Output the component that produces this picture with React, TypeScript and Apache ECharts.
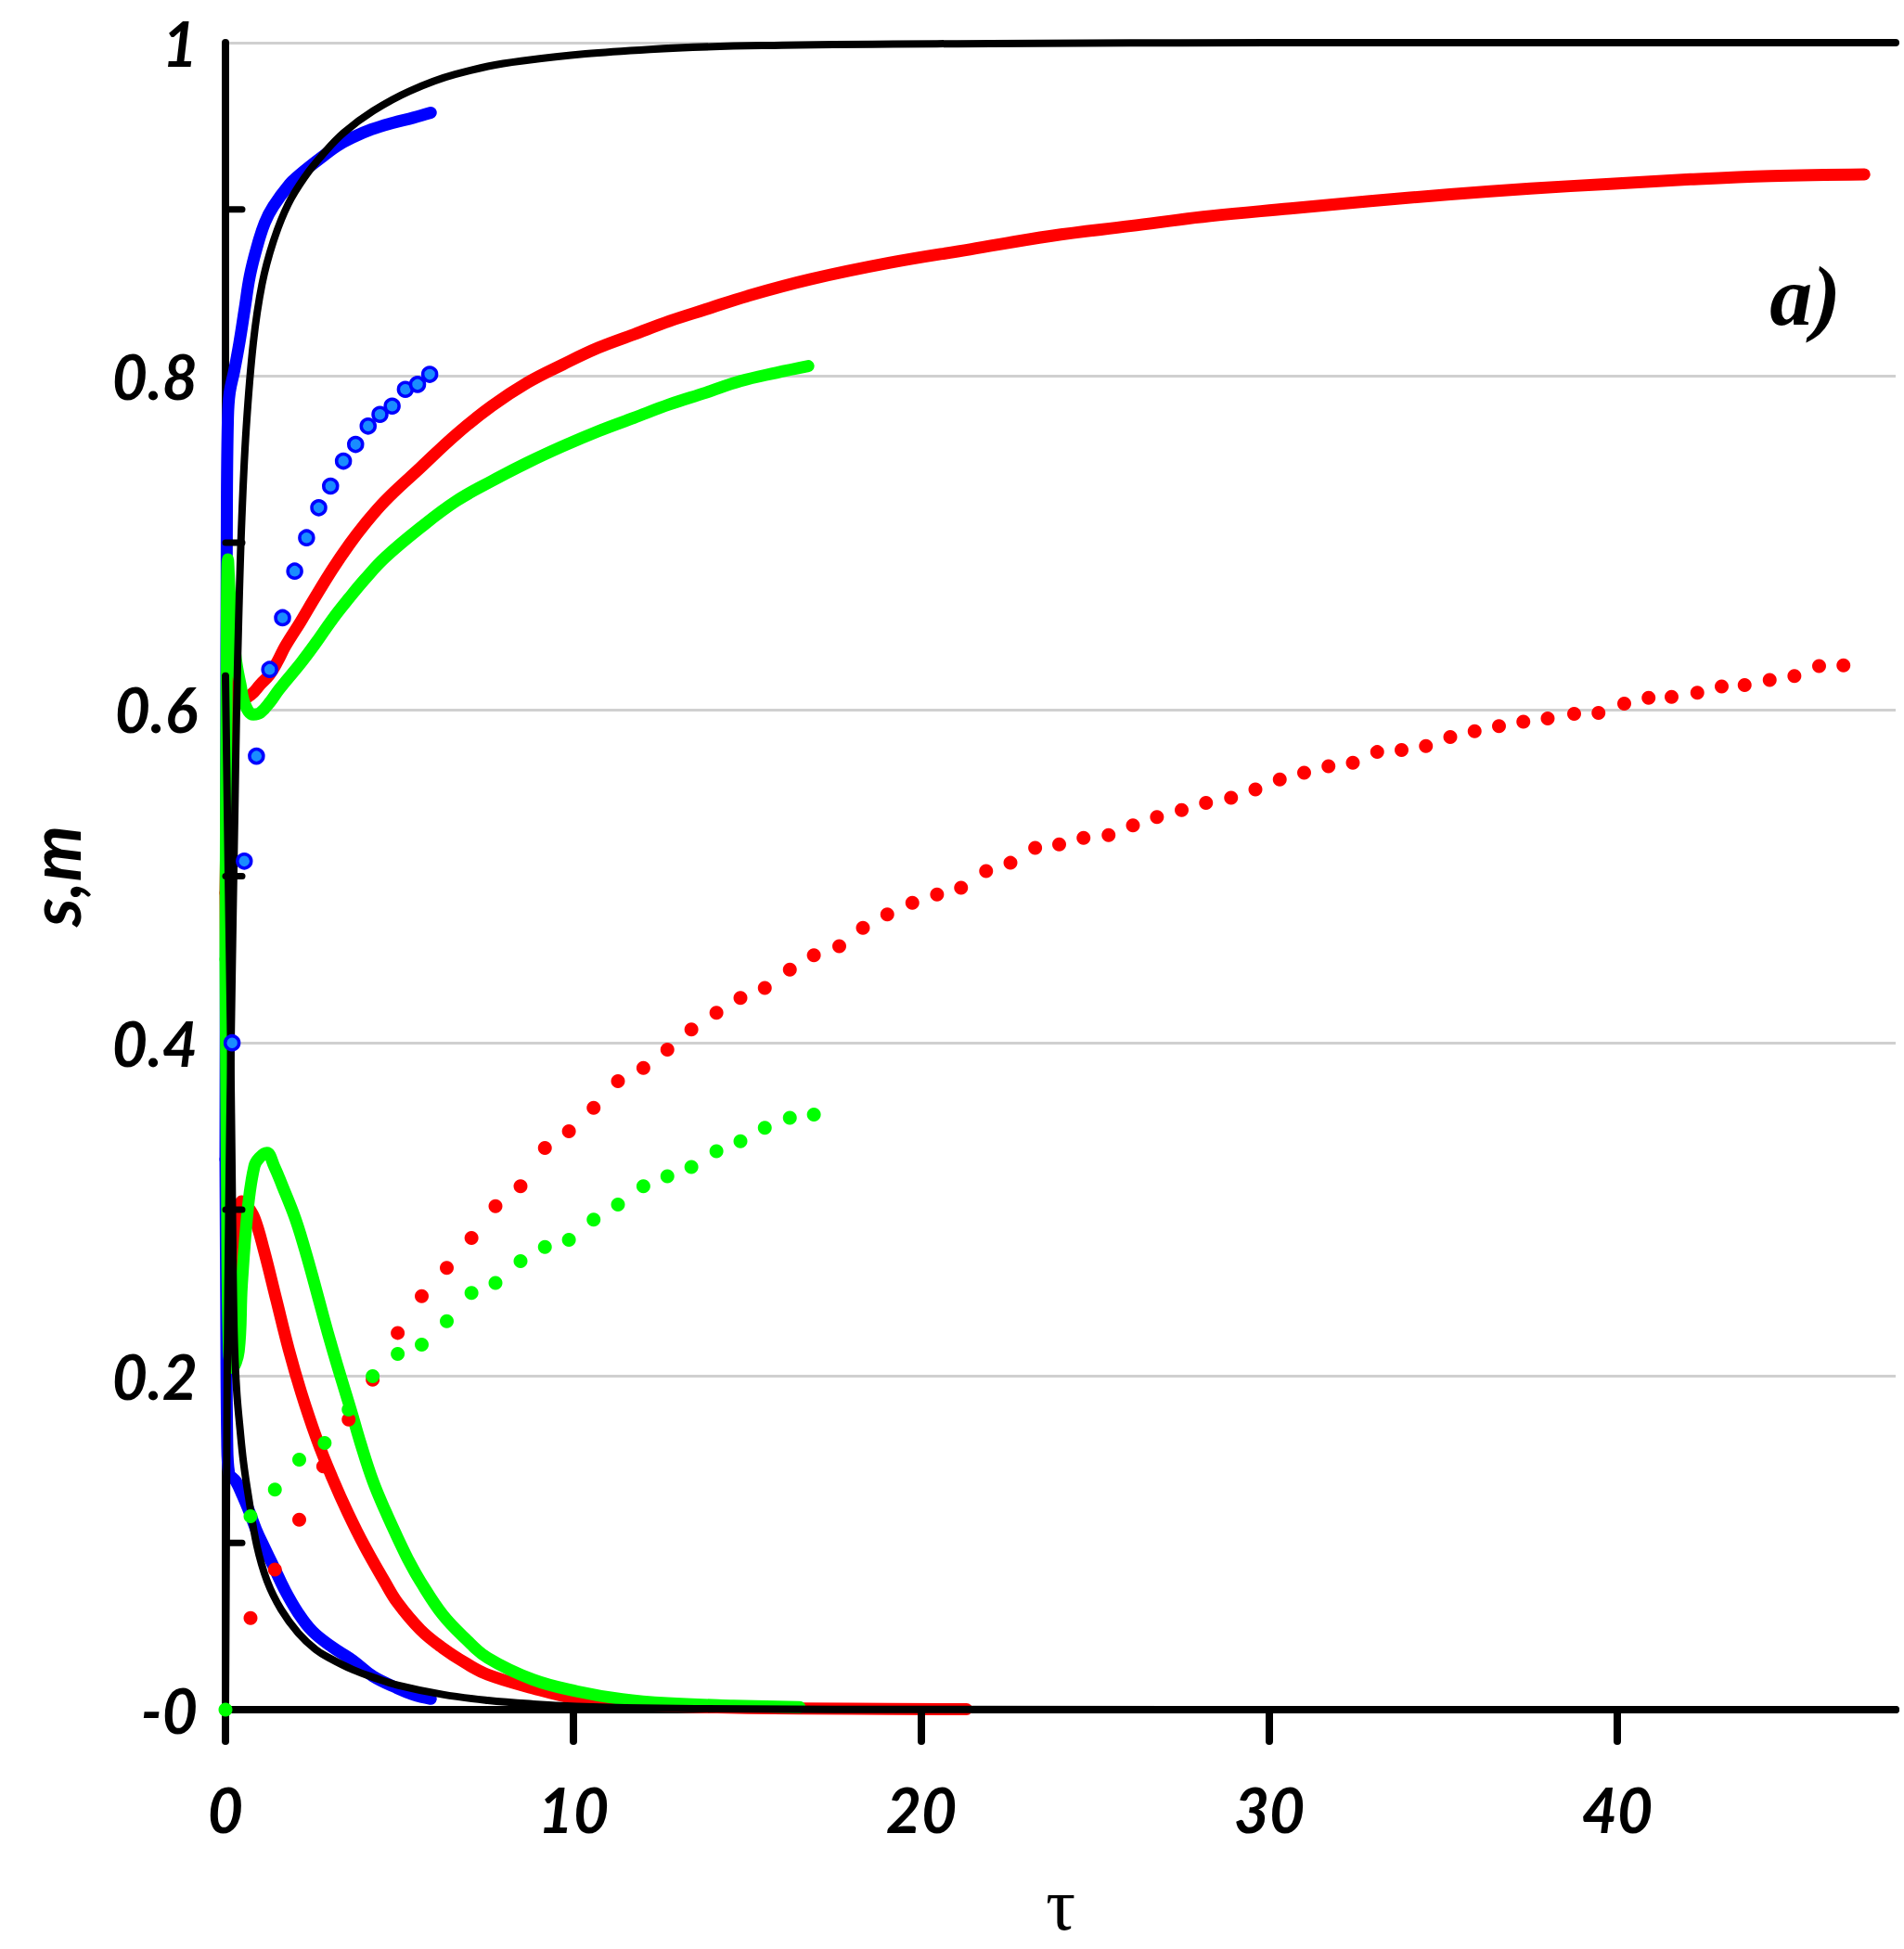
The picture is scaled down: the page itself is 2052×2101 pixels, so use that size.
import React, { useEffect, useRef } from "react";
import * as echarts from "echarts";

// ---------- data (τ, value) ----------
const blueS: number[][] = [
  [0, 0.33], [0.02, 0.55], [0.04, 0.72], [0.07, 0.775], [0.12, 0.79], [0.25, 0.803], [0.4, 0.82],
  [0.55, 0.84], [0.7, 0.86], [0.9, 0.877], [1.13, 0.892], [1.38, 0.902], [1.84, 0.915], [2.09, 0.92],
  [2.5, 0.927], [2.81, 0.932], [3.2, 0.938], [3.64, 0.943], [4.2, 0.948], [4.83, 0.952], [5.4, 0.955], [5.9, 0.958],
];
const blueM: number[][] = [
  [0, 0.33], [0.02, 0.25], [0.05, 0.16], [0.1, 0.142], [0.3, 0.137], [0.5, 0.128], [0.7, 0.118],
  [0.88, 0.108], [1.1, 0.098], [1.38, 0.086], [1.7, 0.072], [2.09, 0.058], [2.5, 0.047], [3.04, 0.038],
  [3.66, 0.0295], [4.24, 0.02], [4.95, 0.0128], [5.4, 0.009], [5.9, 0.0065],
];
const blueDots: number[][] = [
  [0.19, 0.4], [0.54, 0.509], [0.89, 0.572], [1.27, 0.624], [1.64, 0.655], [1.99, 0.683], [2.33, 0.703],
  [2.68, 0.721], [3.02, 0.734], [3.39, 0.749], [3.74, 0.759], [4.1, 0.77], [4.44, 0.777], [4.79, 0.782],
  [5.17, 0.792], [5.52, 0.795], [5.87, 0.801],
];
const redS: number[][] = [
  [0, 0.49], [0.05, 0.56], [0.1, 0.62], [0.2, 0.61], [0.45, 0.606], [0.74, 0.609], [1.0, 0.615],
  [1.27, 0.621], [1.5, 0.629], [1.72, 0.638], [2.17, 0.653], [2.54, 0.666], [3.07, 0.684], [3.56, 0.699],
  [3.96, 0.71], [4.58, 0.725], [5.6, 0.745], [6.63, 0.765], [7.65, 0.782], [8.67, 0.796], [9.7, 0.807],
  [10.72, 0.817], [11.74, 0.825], [12.76, 0.833], [13.8, 0.84], [15.0, 0.848], [16.8, 0.858], [19.1, 0.868],
  [21.4, 0.876], [23.7, 0.884], [26.0, 0.89], [28.3, 0.896], [30.6, 0.9005], [32.9, 0.905], [35.2, 0.909],
  [37.5, 0.9125], [39.8, 0.9153], [42.1, 0.918], [44.4, 0.92], [47.1, 0.921],
];
const redM: number[][] = [
  [0, 0.49], [0.05, 0.35], [0.12, 0.24], [0.2, 0.215], [0.3, 0.26], [0.47, 0.305], [0.6, 0.303],
  [0.83, 0.295], [1.1, 0.276], [1.46, 0.246], [1.82, 0.216], [2.18, 0.19], [2.63, 0.162], [3.07, 0.139],
  [3.52, 0.118], [4.0, 0.098], [4.57, 0.077], [4.95, 0.064], [5.6, 0.048], [6.24, 0.037], [6.9, 0.028],
  [7.54, 0.021], [8.84, 0.0128], [10.1, 0.0065], [11.4, 0.0035], [13.0, 0.002], [15.0, 0.001],
  [18.0, 0.0005], [21.3, 0.0003],
];
const redDots: number[][] = [
  [0.72, 0.055], [1.42, 0.084], [2.12, 0.114], [2.81, 0.146], [3.54, 0.174], [4.23, 0.198], [4.95, 0.226],
  [5.64, 0.248], [6.36, 0.265], [7.07, 0.283], [7.76, 0.302], [8.48, 0.314], [9.18, 0.337], [9.87, 0.347],
  [10.58, 0.361], [11.28, 0.377], [12.01, 0.385], [12.7, 0.396], [13.39, 0.408], [14.11, 0.418],
  [14.8, 0.427], [15.5, 0.433], [16.22, 0.444], [16.91, 0.4525], [17.64, 0.458], [18.32, 0.469],
  [19.02, 0.477], [19.74, 0.484], [20.45, 0.489], [21.14, 0.493], [21.86, 0.503], [22.56, 0.508],
  [23.27, 0.517], [23.96, 0.519], [24.66, 0.523], [25.38, 0.5246], [26.08, 0.5305], [26.77, 0.5355],
  [27.48, 0.5397], [28.18, 0.544], [28.9, 0.547], [29.6, 0.552], [30.3, 0.558], [31.0, 0.562],
  [31.7, 0.566], [32.4, 0.568], [33.1, 0.5745], [33.8, 0.5757], [34.5, 0.578], [35.2, 0.5835],
  [35.9, 0.587], [36.6, 0.59], [37.3, 0.5926], [38.0, 0.5946], [38.76, 0.5974], [39.46, 0.598],
  [40.2, 0.6035], [40.9, 0.607], [41.56, 0.6076], [42.3, 0.61], [43.0, 0.6138], [43.66, 0.6147],
  [44.38, 0.6177], [45.09, 0.62], [45.8, 0.626], [46.5, 0.6264],
];
const greenS: number[][] = [
  [0, 0.45], [0.03, 0.6], [0.07, 0.69], [0.15, 0.66], [0.3, 0.63], [0.43, 0.615], [0.56, 0.603],
  [0.8, 0.597], [1.0, 0.598], [1.3, 0.605], [1.54, 0.612], [2.17, 0.628], [2.6, 0.64], [3.07, 0.654],
  [3.56, 0.667], [4.0, 0.678], [4.58, 0.691], [5.6, 0.709], [6.63, 0.725], [7.65, 0.737], [8.67, 0.748],
  [9.7, 0.758], [10.72, 0.767], [11.74, 0.775], [12.76, 0.783], [13.8, 0.79], [14.8, 0.797],
  [15.83, 0.802], [16.75, 0.806],
];
const greenM: number[][] = [
  [0, 0.45], [0.04, 0.33], [0.1, 0.215], [0.2, 0.205], [0.38, 0.215], [0.47, 0.255], [0.65, 0.302],
  [0.83, 0.326], [0.97, 0.331], [1.19, 0.334], [1.4, 0.326], [1.64, 0.314], [2.0, 0.295], [2.27, 0.277],
  [2.54, 0.257], [2.81, 0.236], [3.08, 0.216], [3.35, 0.197], [3.6, 0.18], [3.88, 0.16], [4.24, 0.137],
  [4.6, 0.119], [4.95, 0.103], [5.3, 0.088], [5.6, 0.077], [6.24, 0.057], [6.9, 0.0425], [7.54, 0.031], [8.84, 0.018],
  [10.1, 0.011], [11.4, 0.0063], [12.7, 0.0039], [14.6, 0.0024], [16.5, 0.0015],
];
const greenDots: number[][] = [
  [0, 0], [0.72, 0.116], [1.42, 0.132], [2.12, 0.15], [2.85, 0.16], [3.54, 0.18], [4.23, 0.2],
  [4.95, 0.2134], [5.64, 0.219], [6.36, 0.233], [7.07, 0.25], [7.76, 0.256], [8.48, 0.269], [9.18, 0.2776],
  [9.87, 0.2818], [10.58, 0.294], [11.28, 0.303], [12.01, 0.314], [12.7, 0.32], [13.39, 0.3256],
  [14.11, 0.335], [14.8, 0.341], [15.5, 0.349], [16.22, 0.355], [16.91, 0.357],
];
const blackS: number[][] = [
  [0, 0.0], [0.05, 0.2], [0.1, 0.31], [0.16, 0.4], [0.22, 0.48], [0.27, 0.54], [0.32, 0.6],
  [0.38, 0.655], [0.47, 0.715], [0.6, 0.77], [0.8, 0.82], [1.05, 0.855], [1.38, 0.881], [1.8, 0.903],
  [2.3, 0.92], [2.8, 0.933], [3.4, 0.946], [4.24, 0.959], [5.3, 0.971], [6.6, 0.981], [8.5, 0.989],
  [12.2, 0.996], [16, 0.9985], [22, 0.9995], [30, 1.0], [48, 1.0],
];
const blackM: number[][] = [
  [0, 0.62], [0.08, 0.5], [0.14, 0.414], [0.2, 0.3], [0.25, 0.225], [0.32, 0.192], [0.42, 0.168],
  [0.52, 0.148], [0.66, 0.128], [0.9, 0.0985], [1.2, 0.077], [1.6, 0.06], [2.09, 0.046], [2.6, 0.036],
  [3.04, 0.0304], [3.66, 0.024], [4.3, 0.019], [4.95, 0.0147], [6.24, 0.0091], [7.54, 0.0056],
  [8.84, 0.0034], [10.1, 0.002], [12, 0.001], [15, 0.0004], [20, 0.0001], [48, 0],
];
const xTicks: number[] = [0, 10, 20, 30, 40];
const yMinorTicks: number[] = [0.1, 0.3, 0.5, 0.7, 0.9];
const panelLabel = "a)";

const FONT = "Lato";

export default function App() {
  const ref = useRef<HTMLDivElement>(null);
  useEffect(() => {
    document.body.style.margin = "0";
    const chart = echarts.init(ref.current!, null, { renderer: "svg" });
    const line = (data: number[][], color: string, width: number, z = 2) => ({
      type: "line",
      data,
      showSymbol: false,
      smooth: 0.4,
      lineStyle: { color, width, cap: "round", join: "round" },
      z,
      silent: true,
    });
    const dots = (data: number[][], color: string, size: number, border?: string) => ({
      type: "scatter",
      data,
      symbol: "circle",
      symbolSize: size,
      itemStyle: border
        ? { color, borderColor: border, borderWidth: 3.5, opacity: 1 }
        : { color, opacity: 1 },
      z: 5,
      silent: true,
    });
    chart.setOption({
      animation: false,
      backgroundColor: "#ffffff",
      grid: { left: 243, right: 9, top: 46, bottom: 258, containLabel: false },
      xAxis: {
        type: "value",
        min: 0,
        max: 48,
        interval: 10,
        axisLine: { show: true, onZero: false, lineStyle: { color: "#000", width: 8, cap: "round" } },
        axisTick: { show: false },
        splitLine: { show: false },
        axisLabel: {
          showMaxLabel: false,
          formatter: (v: number) => (v % 10 === 0 ? String(v) : ""),
          margin: 74,
          color: "#000",
          fontFamily: FONT,
          fontSize: 66,
          fontWeight: "bold",
          fontStyle: "italic",
        },
        name: "τ",
        nameLocation: "middle",
        nameGap: 170,
        nameTextStyle: { color: "#000", fontFamily: "Liberation Serif", fontSize: 80 },
      },
      yAxis: {
        type: "value",
        min: 0,
        max: 1,
        interval: 0.2,
        axisLine: { show: true, onZero: false, lineStyle: { color: "#000", width: 8, cap: "round" } },
        axisTick: { show: false },
        splitLine: { show: true, lineStyle: { color: "#d0d0d0", width: 3 } },
        axisLabel: {
          formatter: (v: number) => (v === 0 ? "-0" : String(+v.toFixed(1))),
          margin: 30,
          color: "#000",
          fontFamily: FONT,
          fontSize: 66,
          fontWeight: "bold",
          fontStyle: "italic",
        },
        name: "s,m",
        nameLocation: "middle",
        nameGap: 148,
        nameRotate: 90,
        nameTextStyle: { color: "#000", fontFamily: FONT, fontSize: 76, fontWeight: "bold", fontStyle: "italic" },
      },
      graphic: [
        {
          type: "text",
          x: 1984,
          y: 319,
          style: {
            text: panelLabel,
            align: "right",
            verticalAlign: "middle",
            font: 'italic bold 92px "Liberation Serif"',
            fill: "#000",
          },
        },
      ],
      series: [
        line(blueS, "#0000ff", 13),
        line(blueM, "#0000ff", 13),
        line(redS, "#ff0000", 13),
        line(redM, "#ff0000", 13),
        line(greenS, "#00ff00", 13),
        line(greenM, "#00ff00", 13),
        line(blackS, "#000000", 8, 3),
        line(blackM, "#000000", 8, 3),
        {
          type: "custom",
          data: xTicks.map((v) => [v, 0]),
          clip: false,
          silent: true,
          z: 4,
          renderItem: (_p: any, api: any) => {
            const p = api.coord([api.value(0), api.value(1)]);
            return {
              type: "line",
              shape: { x1: p[0], y1: p[1], x2: p[0], y2: p[1] + 34 },
              style: { stroke: "#000", lineWidth: 8, lineCap: "round" },
            };
          },
        },
        {
          type: "custom",
          data: yMinorTicks.map((v) => [0, v]),
          clip: false,
          silent: true,
          z: 4,
          renderItem: (_p: any, api: any) => {
            const p = api.coord([api.value(0), api.value(1)]);
            return {
              type: "line",
              shape: { x1: p[0], y1: p[1], x2: p[0] + 18, y2: p[1] },
              style: { stroke: "#000", lineWidth: 7, lineCap: "round" },
            };
          },
        },
        dots(blueDots, "#1a8cff", 15, "#0000ff"),
        dots(redDots, "#ff0000", 15),
        dots(greenDots, "#00ff00", 15),
      ],
    });
    return () => chart.dispose();
  }, []);
  return <div ref={ref} style={{ width: 2052, height: 2101 }} />;
}
